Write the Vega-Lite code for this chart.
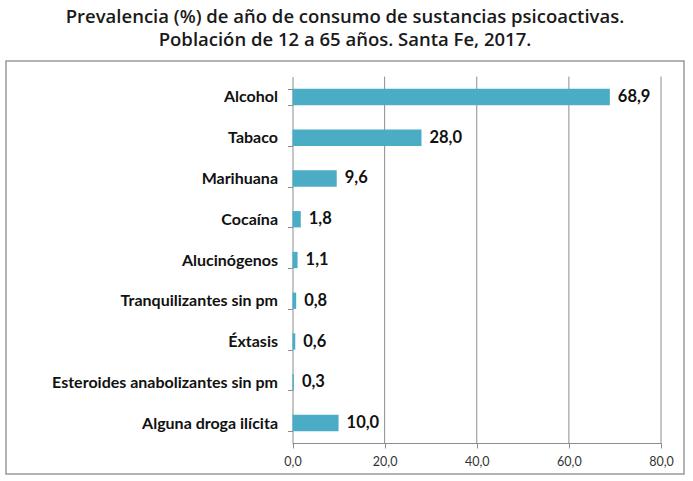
{
  "$schema": "https://vega.github.io/schema/vega-lite/v6.json",
  "width": 678,
  "height": 413,
  "padding": {"left": 6, "top": 7, "right": 9, "bottom": 7},
  "title": {
    "text": ["Prevalencia (%) de año de consumo de sustancias psicoactivas.", "Población de 12 a 65 años. Santa Fe, 2017."],
    "font": "Open Sans",
    "fontSize": 18.5,
    "fontWeight": 600,
    "color": "#1a1a1a",
    "lineHeight": 23,
    "anchor": "middle",
    "offset": 4
  },
  "data": {
    "values": [
      {"sustancia": "Alcohol", "valor": 68.9},
      {"sustancia": "Tabaco", "valor": 28.0},
      {"sustancia": "Marihuana", "valor": 9.6},
      {"sustancia": "Cocaína", "valor": 1.8},
      {"sustancia": "Alucinógenos", "valor": 1.1},
      {"sustancia": "Tranquilizantes sin pm", "valor": 0.8},
      {"sustancia": "Éxtasis", "valor": 0.6},
      {"sustancia": "Esteroides anabolizantes sin pm", "valor": 0.3},
      {"sustancia": "Alguna droga ilícita", "valor": 10.0}
    ]
  },
  "encoding": {
    "x": {
      "field": "valor",
      "type": "quantitative",
      "title": null,
      "scale": {"domain": [0, 80], "range": [286.5, 655], "nice": false},
      "axis": {
        "offset": -31,
        "values": [0, 20, 40, 60, 80],
        "format": ".1f",
        "grid": false,
        "labelFlush": false,
        "tickSize": 5,
        "tickColor": "#8c8c8c",
        "domainColor": "#8c8c8c",
        "labelFont": "Lato",
        "labelFontSize": 12.5,
        "labelColor": "#333333",
        "labelPadding": 7
      }
    }
  },
  "layer": [
    {
      "data": {"values": [{"g": 20}, {"g": 40}, {"g": 60}, {"g": 80}]},
      "mark": {"type": "rule", "color": "#8c8c8c", "strokeWidth": 1},
      "encoding": {
        "x": {"field": "g", "type": "quantitative"},
        "y": {"datum": 0, "type": "quantitative", "scale": {"domain": [0, 1], "range": [15.6, 382.4], "nice": false, "zero": false}, "axis": null},
        "y2": {"datum": 1}
      }
    },
    {
      "encoding": {
        "y": {
          "field": "sustancia",
          "type": "nominal",
          "sort": null,
          "title": null,
          "scale": {"range": [15.6, 382.4], "paddingInner": 0.6, "paddingOuter": 0.3},
          "axis": {
            "offset": -286.5,
            "tickBand": "extent",
            "tickSize": 5,
            "tickColor": "#8c8c8c",
            "domainColor": "#8c8c8c",
            "labelFont": "Lato",
            "labelFontSize": 16,
            "labelFontWeight": "bold",
            "labelColor": "#111111",
            "labelPadding": 10,
            "labelLimit": 400,
            "grid": false
          }
        }
      },
      "layer": [
        {"mark": {"type": "bar", "color": "#4BACC6"}},
        {
          "mark": {"type": "text", "align": "left", "baseline": "middle", "dx": 8, "font": "Lato", "fontSize": 16.5, "fontWeight": "bold", "color": "#111111"},
          "encoding": {"text": {"field": "valor", "type": "quantitative", "format": ".1f"}}
        }
      ]
    }
  ],
  "resolve": {"scale": {"y": "independent"}, "axis": {"y": "independent"}},
  "config": {
    "view": {"stroke": "#9a9a9a", "strokeWidth": 1.5},
    "locale": {"number": {"decimal": ",", "thousands": ".", "grouping": [3], "currency": ["$", ""]}}
  }
}
